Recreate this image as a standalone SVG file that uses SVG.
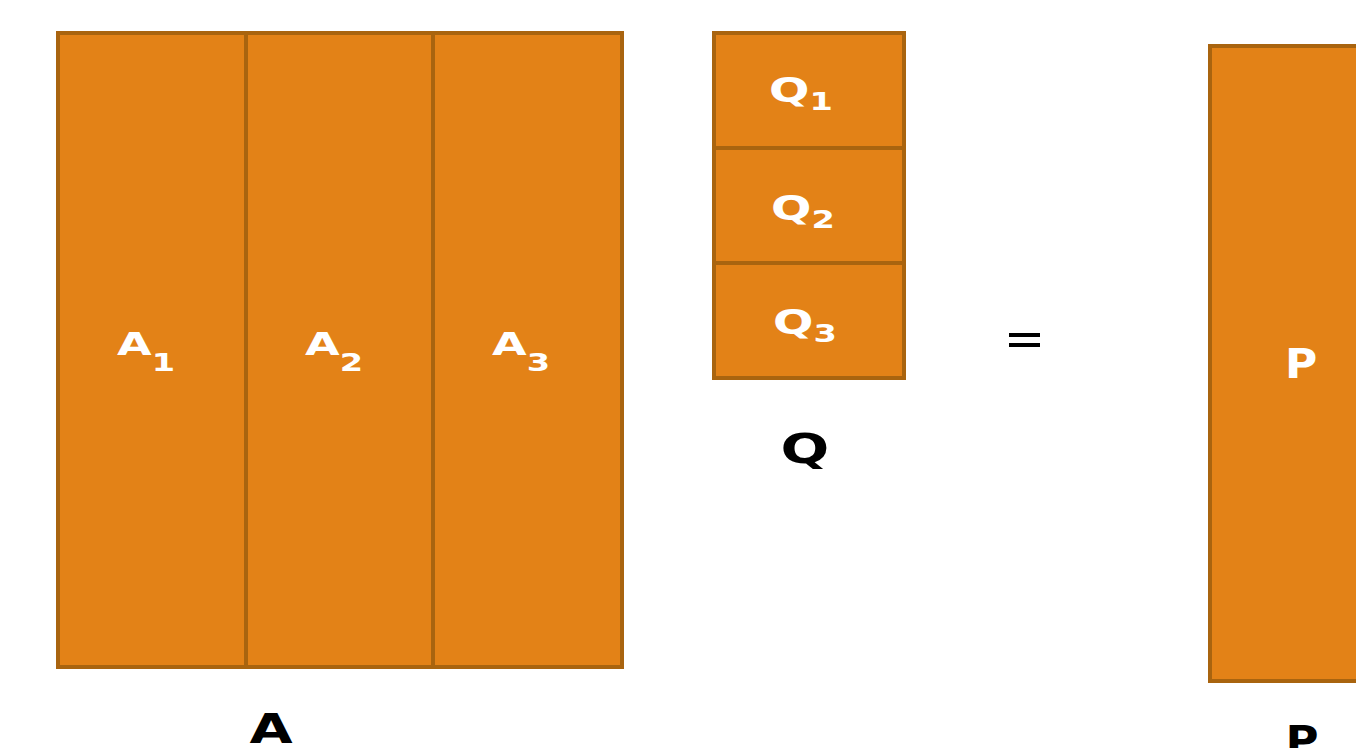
<svg xmlns="http://www.w3.org/2000/svg" width="1356" height="748" viewBox="0 0 1356 748">
<style>
.box{fill:#E38217;stroke:#A9640F;stroke-width:4}
.div{stroke:#A9640F;stroke-width:4}
.w{fill:#FFFFFF;font-family:"DejaVu Sans",sans-serif;font-weight:bold}
.k{fill:#000000;font-family:"DejaVu Sans",sans-serif;font-weight:bold}
</style>
<rect width="1356" height="748" fill="#FFFFFF"/>
<g id="A">
<rect class="box" x="58" y="33" width="564" height="634"/>
<line class="div" x1="246" y1="33" x2="246" y2="667"/>
<line class="div" x1="433" y1="33" x2="433" y2="667"/>
<text class="w" font-size="32" text-anchor="middle" transform="translate(146,355) scale(1.4,1)">A<tspan font-size="24" dy="16">1</tspan></text>
<text class="w" font-size="32" text-anchor="middle" transform="translate(334,355) scale(1.4,1)">A<tspan font-size="24" dy="16">2</tspan></text>
<text class="w" font-size="32" text-anchor="middle" transform="translate(521,355) scale(1.4,1)">A<tspan font-size="24" dy="16">3</tspan></text>
<text class="k" font-size="41" text-anchor="middle" transform="translate(271,743) scale(1.36,1)">A</text>
</g>
<g id="Q">
<rect class="box" x="714" y="33" width="190" height="345"/>
<line class="div" x1="714" y1="148" x2="904" y2="148"/>
<line class="div" x1="714" y1="263" x2="904" y2="263"/>
<text class="w" font-size="34" text-anchor="middle" transform="translate(801,102) scale(1.4,1)">Q<tspan font-size="24" dy="8">1</tspan></text>
<text class="w" font-size="34" text-anchor="middle" transform="translate(803,220) scale(1.4,1)">Q<tspan font-size="24" dy="8">2</tspan></text>
<text class="w" font-size="34" text-anchor="middle" transform="translate(805,334) scale(1.4,1)">Q<tspan font-size="24" dy="8">3</tspan></text>
<text class="k" font-size="41" text-anchor="middle" transform="translate(805,463) scale(1.4,1)">Q</text>
</g>
<g id="eq">
<rect x="1009" y="333" width="31" height="4" fill="#000000"/>
<rect x="1009" y="343" width="31" height="4" fill="#000000"/>
</g>
<g id="P">
<rect class="box" x="1210" y="46" width="200" height="635"/>
<text class="w" font-size="40" text-anchor="middle" transform="translate(1301,378) scale(1.1,1)">P</text>
<text class="k" font-size="41" text-anchor="middle" transform="translate(1302,755) scale(1.1,1)">P</text>
</g>
<g id="connectors"></g>
</svg>
